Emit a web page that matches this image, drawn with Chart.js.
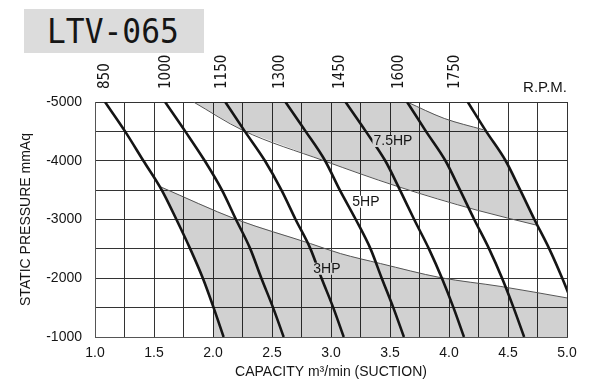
<!DOCTYPE html>
<html>
<head>
<meta charset="utf-8">
<title>LTV-065</title>
<script src="https://cdn.jsdelivr.net/npm/chart.js@4.4.1/dist/chart.umd.min.js"></script>
<style>
  html, body { margin: 0; padding: 0; background: #fff; }
  #wrap { position: relative; width: 600px; height: 388px; }
  #wrap canvas { position: absolute; left: 0; top: 0; }
  #model {
    position: absolute; left: 24px; top: 9px; width: 180px; height: 44px;
    background: #dcdcdc; overflow: hidden;
  }
  #model span {
    position: absolute; left: 23px; top: 5px;
    font: 34px/34px 'DejaVu Sans Mono', monospace; color: #151515;
    transform: scaleX(0.92); transform-origin: left top; white-space: nowrap;
  }
</style>
</head>
<body>
<div id="wrap">
  <canvas id="fanChart" width="600" height="388"></canvas>
  <div id="model"><span>LTV-065</span></div>
</div>
<script>
// static pressure rows (mmAq) where each rpm curve was read
const pressure = [-5000, -4500, -4000, -3500, -3000, -2500, -2000, -1500, -1000];

// capacity (m3/min) of each rpm curve at those pressures
const rpm850  = [1.085, 1.255, 1.41, 1.566, 1.69, 1.807, 1.914, 2.005, 2.09];
const rpm1000 = [1.594, 1.765, 1.93, 2.076, 2.195, 2.316, 2.41, 2.509, 2.599];
const rpm1150 = [2.104, 2.27, 2.44, 2.58, 2.70, 2.826, 2.92, 3.019, 3.108];
const rpm1300 = [2.614, 2.785, 2.95, 3.075, 3.21, 3.335, 3.43, 3.528, 3.618];
const rpm1450 = [3.123, 3.295, 3.46, 3.585, 3.705, 3.83, 3.94, 4.038, 4.127];
const rpm1600 = [3.645, 3.805, 3.97, 4.094, 4.214, 4.34, 4.45, 4.547, 4.637];
const rpm1750 = [4.159, 4.315, 4.48, 4.604, 4.724, 4.85, 4.96, 5.06, null];

// rpm labels along the top and where they sit on the capacity axis
const rpmLabels = ['850', '1000', '1150', '1300', '1450', '1600', '1750'];
const rpmTickAt = [1.08, 1.59, 2.07, 2.56, 3.07, 3.565, 4.045];

// motor power boundaries
const hp3X = [1.551, 2.2, 2.826, 3.08, 3.42, 3.93, 4.44, 5.0];
const hp3Y = [-3560, -3000, -2590, -2420, -2250, -2010, -1860, -1665];
const hp5X = [1.835, 2.25, 2.94, 3.56, 4.24, 4.75];
const hp5Y = [-5000, -4520, -4000, -3565, -3157, -2900];
const hp75X = [3.645, 3.96, 4.29];
const hp75Y = [-5000, -4720, -4528];

// corners that close the lower shaded band (capacity, pressure)
const shade3Corners = [[5.0, -1000], [2.0, -1000], [2.0, -1520]];

// power labels in the plot
const hpLabels = ['7.5HP', '5HP', '3HP'];
const hpLabelX = [3.36, 3.18, 2.85];
const hpLabelY = [-4336, -3303, -2162];

const toPoints = (xs, ys) => xs.map((x, i) => ({ x, y: ys[i] })).filter((p) => p.x !== null);

const rpmCurves = [rpm850, rpm1000, rpm1150, rpm1300, rpm1450, rpm1600, rpm1750];

// 3HP band: below the 3HP line, right of the 850 rpm curve
const shade3 = [
  ...toPoints(hp3X, hp3Y),
  ...shade3Corners.map(([x, y]) => ({ x, y })),
  ...toPoints(rpm850, pressure).slice(3, 7).reverse()
];

// 7.5HP band: above the 5HP line, up to the 1750 rpm curve
const shade75 = [
  ...toPoints(hp75X, hp75Y),
  ...toPoints(rpm1750, pressure).slice(1, 5),
  ...toPoints(hp5X, hp5Y).reverse()
];

const GRID = '#333';
const INK = '#151515';
const SHADE = 'rgba(0,0,0,0.18)';
const FONT = "'Liberation Sans', Arial, sans-serif";

const datasets = [];
rpmCurves.forEach((c, i) => {
  datasets.push({
    label: rpmLabels[i] + ' rpm',
    data: toPoints(c, pressure),
    xAxisID: 'x', yAxisID: 'y',
    borderColor: INK, borderWidth: 2.6,
    pointRadius: 0, fill: false,
    cubicInterpolationMode: 'monotone',
    order: 1
  });
});
[[hp3X, hp3Y], [hp5X, hp5Y], [hp75X, hp75Y]].forEach(([xs, ys]) => {
  datasets.push({
    data: toPoints(xs, ys),
    xAxisID: 'x', yAxisID: 'y',
    borderColor: '#555', borderWidth: 1,
    pointRadius: 0, fill: false,
    cubicInterpolationMode: 'monotone',
    order: 2
  });
});
[shade3, shade75].forEach((s) => {
  datasets.push({
    data: s,
    xAxisID: 'x', yAxisID: 'y',
    borderWidth: 0, pointRadius: 0,
    backgroundColor: SHADE, fill: 'shape',
    tension: 0,
    order: 3
  });
});

const labelPlugin = {
  id: 'hpLabels',
  afterDatasetsDraw(chart) {
    const { ctx, chartArea, scales: { x, y } } = chart;
    const bgs = ['#d1d1d1', '#ffffff', '#d1d1d1'];
    ctx.save();
    ctx.font = '14px ' + FONT;
    ctx.textBaseline = 'middle';
    ctx.textAlign = 'left';
    hpLabels.forEach((t, i) => {
      const px = x.getPixelForValue(hpLabelX[i]);
      const py = y.getPixelForValue(hpLabelY[i]);
      const w = ctx.measureText(t).width;
      ctx.fillStyle = bgs[i];
      ctx.fillRect(px - 1, py - 6, w + 2, 12);
      ctx.fillStyle = INK;
      ctx.fillText(t, px, py);
    });
    ctx.font = '15px ' + FONT;
    ctx.textAlign = 'right';
    ctx.textBaseline = 'alphabetic';
    ctx.fillText('R.P.M.', chartArea.right, 92);
    ctx.restore();
  }
};

new Chart(document.getElementById('fanChart'), {
  type: 'line',
  data: { datasets },
  options: {
    responsive: false,
    animation: false,
    devicePixelRatio: 1,
    layout: { padding: { left: 0, right: 33, top: 0, bottom: 0 } },
    plugins: { legend: { display: false }, tooltip: { enabled: false } },
    scales: {
      x: {
        type: 'linear', position: 'bottom', min: 1, max: 5,
        afterFit: (s) => { s.height = 51; },
        grid: { color: GRID, lineWidth: 1, drawTicks: false },
        border: { color: '#555' },
        ticks: {
          stepSize: 0.25, autoSkip: false, maxRotation: 0, padding: 8,
          color: INK, font: { family: FONT, size: 14 },
          callback: (v) => (Math.round(v * 100) % 50 === 0 ? v.toFixed(1) : '')
        },
        title: {
          display: true, text: 'CAPACITY m³/min (SUCTION)', color: INK,
          font: { family: FONT, size: 14 }, padding: { top: 0, bottom: 7 }
        }
      },
      xTop: {
        type: 'linear', position: 'top', min: 1, max: 5,
        afterFit: (s) => { s.height = 102; },
        afterBuildTicks: (s) => { s.ticks = rpmTickAt.map((v) => ({ value: v })); },
        grid: { display: false, drawTicks: false },
        border: { display: false },
        ticks: {
          autoSkip: false, minRotation: 90, maxRotation: 90, padding: 13, labelOffset: 19,
          color: INK, font: { family: "'Liberation Sans Narrow', 'DejaVu Sans Condensed', " + FONT, size: 15 },
          callback: (v, i) => rpmLabels[i]
        }
      },
      y: {
        type: 'linear', min: -5000, max: -1000, reverse: true,
        afterFit: (s) => { s.width = 95; },
        grid: { color: GRID, lineWidth: 1, drawTicks: false },
        border: { color: '#555' },
        ticks: {
          stepSize: 500, padding: 13, color: INK, font: { family: FONT, size: 14 },
          callback: (v) => (v % 1000 === 0 ? String(v) : '')
        },
        title: {
          display: true, text: 'STATIC PRESSURE mmAq', color: INK,
          font: { family: FONT, size: 14 }, padding: { top: 18, bottom: 0 }
        }
      }
    }
  },
  plugins: [labelPlugin]
});
</script>
</body>
</html>
